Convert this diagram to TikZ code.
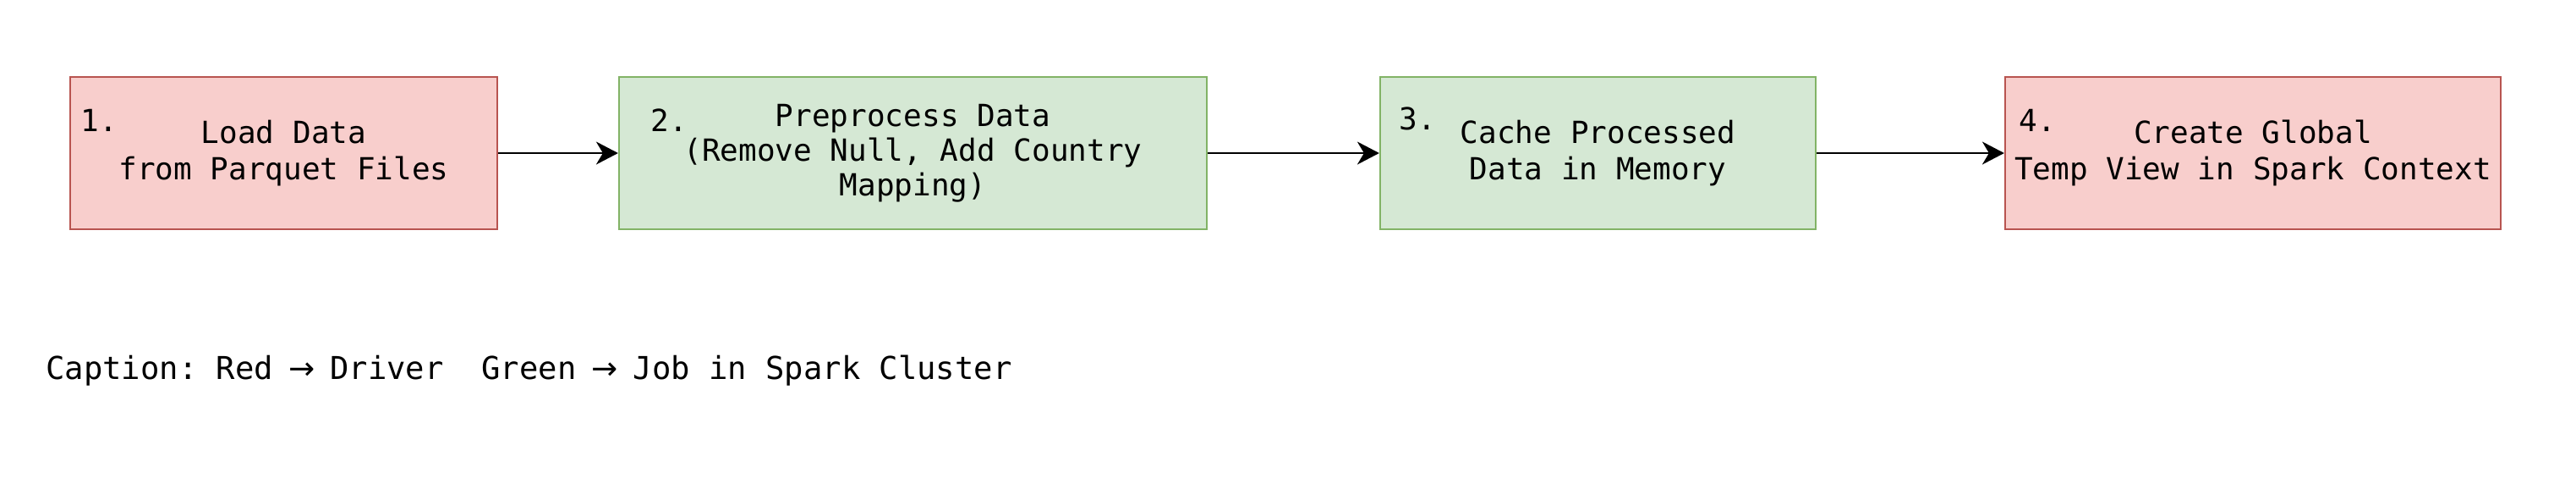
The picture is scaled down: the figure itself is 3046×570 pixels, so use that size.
\documentclass[tikz,border=0pt]{standalone}
\usepackage{fontspec}
\setmainfont{DejaVu Sans Mono}
\newfontfamily\arrowfont{DejaVu Sans}
\usetikzlibrary{arrows.meta}
\definecolor{redfill}{HTML}{F8CECC}
\definecolor{redline}{HTML}{B85450}
\definecolor{greenfill}{HTML}{D5E8D4}
\definecolor{greenline}{HTML}{82B366}
\newcommand{\capar}{\makebox[0.602em]{\arrowfont →}}
\frenchspacing
\begin{document}
\frenchspacing
\begin{tikzpicture}[x=0.5pt,y=-0.5pt,
  box/.style={draw, line width=1.1pt, minimum height=90pt, inner sep=0pt, align=center,
    font=\fontsize{18}{21.5}\selectfont},
  redbox/.style={box, fill=redfill, draw=redline},
  greenbox/.style={box, fill=greenfill, draw=greenline},
  num/.style={anchor=west, inner sep=0pt, font=\fontsize{18}{20.5}\selectfont},
  arr/.style={-{Stealth[length=13pt,width=13.5pt,inset=4pt]}, line width=1pt},
  captxt/.style={anchor=west, inner sep=0pt, font=\fontsize{18.6}{20}\selectfont\frenchspacing}]
\useasboundingbox[fill=white] (0,0) rectangle (3046,570);

\node[redbox, minimum width=252.5pt] (b1) at (335.5,181) {Load Data\\from Parquet Files};
\node[greenbox, minimum width=347.5pt, font=\fontsize{18}{20.5}\selectfont] (b2) at (1079.5,181) {Preprocess Data\\(Remove Null, Add Country\\Mapping)};
\node[greenbox, minimum width=257.5pt] (b3) at (1889.5,181) {Cache Processed\\Data in Memory};
\node[redbox, minimum width=293pt] (b4) at (2664,181) {Create Global\\Temp View in Spark Context};

\node[num] (n1) at (95,142) {1.};
\node[num] (n2) at (769,142) {2.};
\node[num] (n3) at (1654,140) {3.};
\node[num] (n4) at (2387,142) {4.};

\draw[arr] (b1.east) -- (b2.west);
\draw[arr] (b2.east) -- (b3.west);
\draw[arr] (b3.east) -- (b4.west);

\node[captxt] (cap) at (54,438) {Caption: Red \capar{} Driver\ \ Green \capar{} Job in Spark Cluster};
\end{tikzpicture}
\end{document}
